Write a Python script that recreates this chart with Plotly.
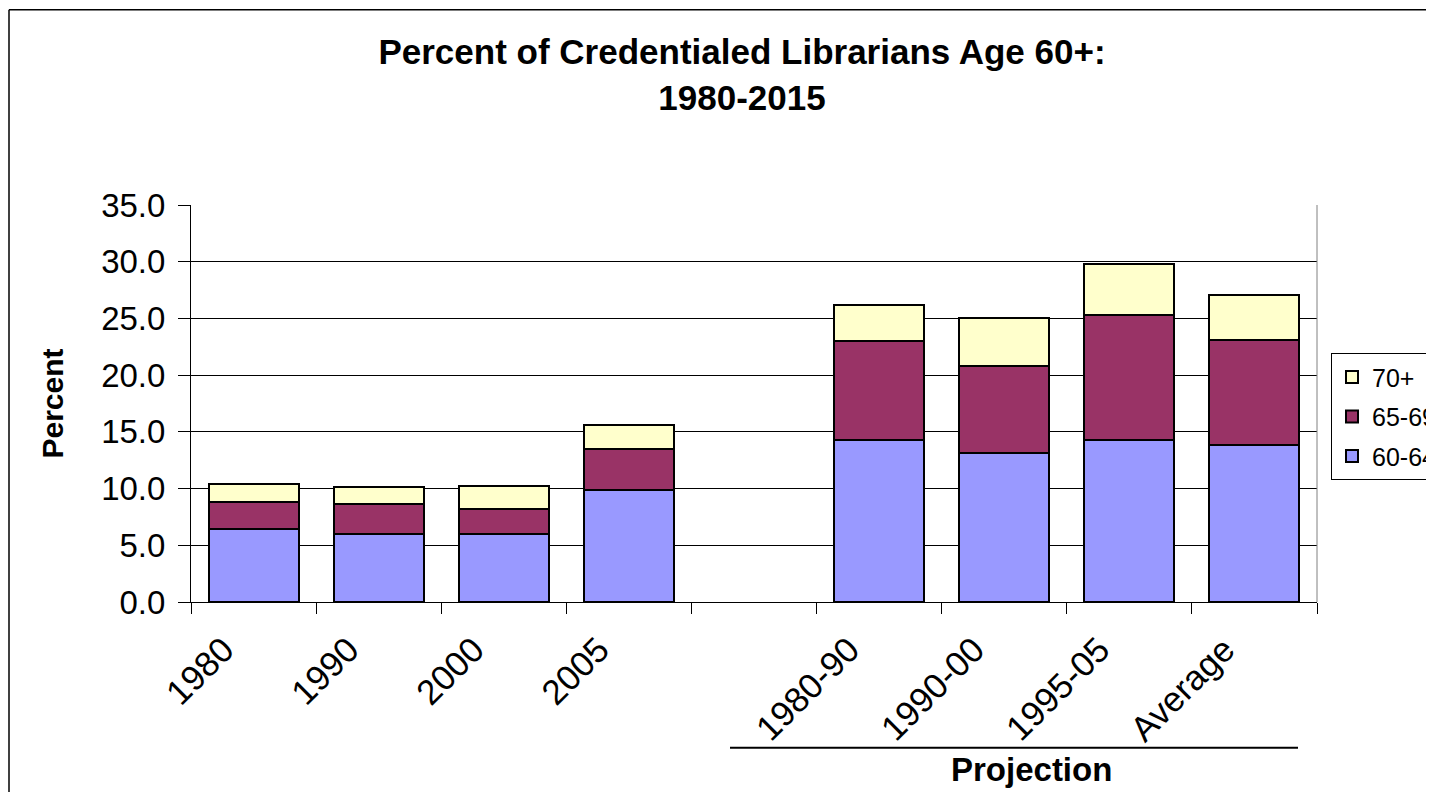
import plotly.graph_objects as go

categories = ["1980", "1990", "2000", "2005", " ", "1980-90", "1990-00", "1995-05", "Average"]
age_60_64 = [6.4, 6.0, 6.0, 9.9, None, 14.3, 13.1, 14.3, 13.8]
age_65_69 = [2.4, 2.6, 2.2, 3.6, None, 8.7, 7.7, 11.0, 9.3]
age_70_plus = [1.6, 1.5, 2.0, 2.1, None, 3.2, 4.2, 4.5, 4.0]
y_ticks = [0, 5, 10, 15, 20, 25, 30, 35]

FONT = "Liberation Sans, Arial, sans-serif"
W, H = 1434, 792
OFF = 8  # page body margin
# plot area in screenshot pixels
SX0, SX1, SY0, SY1 = 191, 1317, 204.5, 602
L = SX0 - OFF
R = W - (SX1 - OFF)
T = SY0 - OFF
B = H - (SY1 - OFF)
PW, PH = W - L - R, H - T - B

def px(x):
    return (x - OFF - L) / PW

def py(y):
    return (H - B - (y - OFF)) / PH

fig = go.Figure()
series = [("60-64", age_60_64, "#9999FF", 3), ("65-69", age_65_69, "#993366", 2), ("70+", age_70_plus, "#FFFFCC", 1)]
for name, vals, color, rank in series:
    fig.add_trace(go.Bar(
        x=categories, y=vals, name=name, legendgroup=name, legendrank=rank,
        marker=dict(color=color, line=dict(color="black", width=2)),
    ))

fig.update_layout(
    width=W, height=H,
    barmode="stack", bargap=0.28,
    plot_bgcolor="white", paper_bgcolor="white",
    margin=dict(l=L, r=R, t=T, b=B, autoexpand=False),
    font=dict(family=FONT, color="black"),
    title=dict(
        text="<b>Percent of Credentialed Librarians Age 60+:<br>1980-2015</b>",
        x=(742 - OFF) / W, xanchor="center", xref="container",
        y=1 - 56 / H, yanchor="middle", yref="container",
        font=dict(family=FONT, size=35, color="black"),
    ),
    showlegend=True,
    legend=dict(
        x=px(1331), xanchor="left", y=py(353), yanchor="top",
        bgcolor="white", bordercolor="black", borderwidth=1,
        font=dict(family=FONT, size=25, color="black"),
        traceorder="grouped", tracegroupgap=4,
    ),
    xaxis=dict(
        type="category", categoryorder="array", categoryarray=categories,
        showline=True, linecolor="black", linewidth=1,
        ticks="outside", ticklen=11, tickcolor="black", tickson="boundaries",
        tickangle=-45, ticklabelshift=-30, ticklabelstandoff=12,
        tickfont=dict(family=FONT, size=35, color="black"),
        showgrid=False, zeroline=False,
    ),
    yaxis=dict(
        range=[0, 35], tickvals=y_ticks, tickformat=".1f",
        showline=True, linecolor="black", linewidth=1,
        ticks="outside", ticklen=12, tickcolor="black",
        ticklabelstandoff=6,
        tickfont=dict(family=FONT, size=33, color="black"),
        showgrid=True, gridcolor="black", gridwidth=1, zeroline=False,
        title=dict(text="<b>Percent</b>", font=dict(family=FONT, size=30, color="black"), standoff=28),
    ),
)

# plot-area right border
fig.add_shape(type="line", xref="paper", yref="paper", x0=1, x1=1, y0=0, y1=1,
              line=dict(color="#808080", width=1))
# outer chart border: left and top edges (right/bottom lie beyond the picture)
bx = (1 - L) / PW
by = (H - B - 1) / PH
bx_end = (W - 1 - L) / PW
fig.add_shape(type="line", xref="paper", yref="paper", x0=bx, x1=bx, y0=-1.0, y1=by,
              line=dict(color="black", width=1.5), layer="below")
fig.add_shape(type="line", xref="paper", yref="paper", x0=bx, x1=bx_end, y0=by, y1=by,
              line=dict(color="black", width=1.5), layer="below")
# Projection bracket line and label
fig.add_shape(type="line", xref="paper", yref="paper", x0=px(730), x1=px(1298), y0=py(748), y1=py(748),
              line=dict(color="black", width=2))
fig.add_annotation(text="<b>Projection</b>", xref="paper", yref="paper", x=px(1031), y=py(770),
                   xanchor="center", yanchor="middle", showarrow=False,
                   font=dict(family=FONT, size=33, color="black"))

fig.write_html("out.html")
